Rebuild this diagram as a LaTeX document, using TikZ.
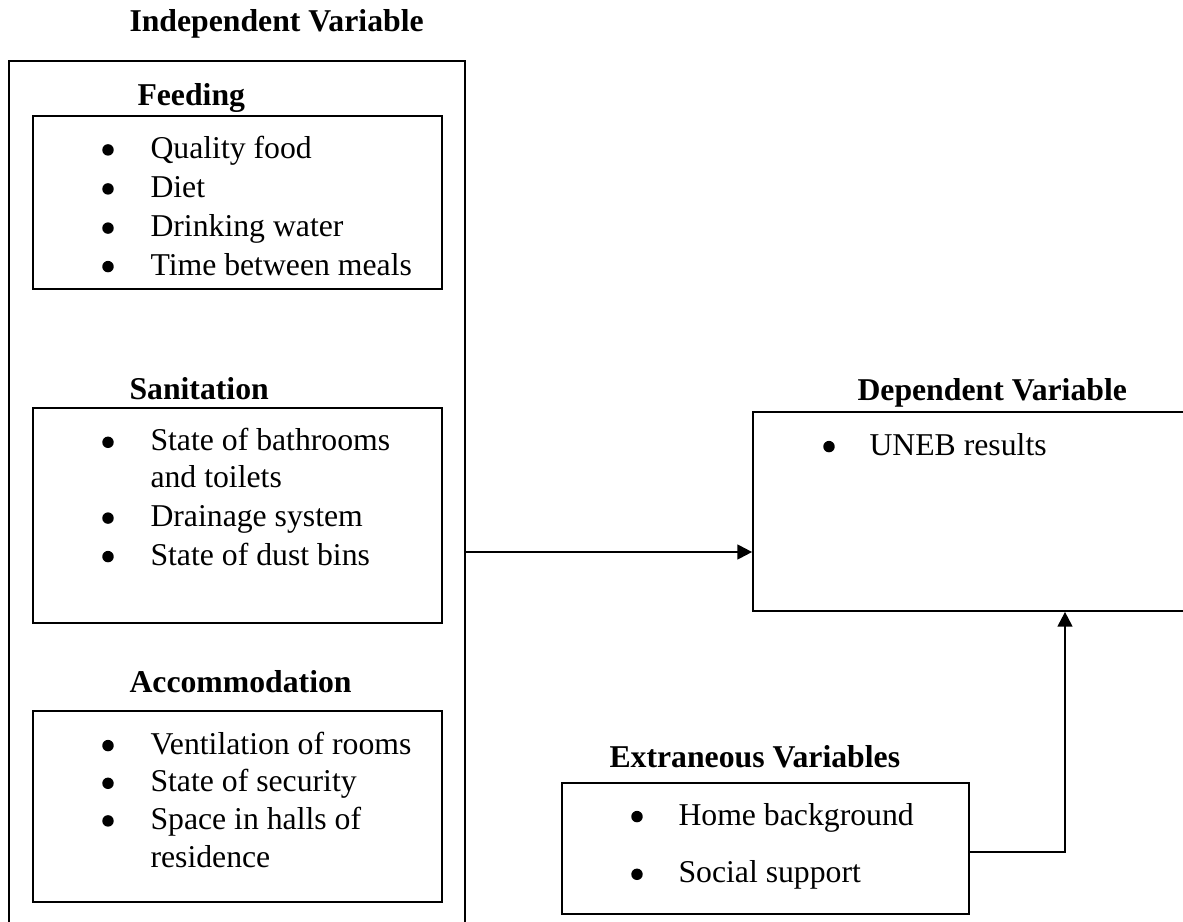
\documentclass[tikz,border=0pt]{standalone}
\usepackage{fontspec}
\setmainfont{Liberation Serif}
\usetikzlibrary{arrows.meta,fit}

\newcommand{\wordsize}{\fontsize{23.8pt}{28pt}\selectfont}
\tikzset{every picture/.style={line width=0.75pt},
  box/.style={draw,line width=1.3pt,inner sep=0pt},
  conn/.style={line width=1.6pt,-{Triangle[length=11pt,width=11pt]}},
  txt/.style={anchor=base west,inner sep=0pt,font=\wordsize},
  bul/.style={circle,fill,inner sep=0pt,minimum size=8.6pt,yshift=6.3pt},
  head/.style={anchor=base west,inner sep=0pt,font=\wordsize\bfseries}}

\begin{document}
\begin{tikzpicture}[x=0.75pt,y=0.75pt,yscale=-1,xscale=1]
%page size of the scan
\useasboundingbox (0,0) rectangle (1183,922);
\clip (0,0) rectangle (1183,922);

%Independent side
\node (indephead) [head] at (129,31.7) {Independent Variable};
\node (indep) [box,line width=1.6pt,fit={(9,61) (465,950)}] {};

%Feeding
\node (feedhead) [head] at (137,105) {Feeding};
\node (feed) [box,fit={(33,116) (442,289)}] {};
\node (feedb1) [bul] at (108,158.3) {};
\node (feedt1) [txt] at (150,158.3) {Quality food};
\node (feedb2) [bul] at (108,197.3) {};
\node (feedt2) [txt] at (150,197.3) {Diet};
\node (feedb3) [bul] at (108,236.5) {};
\node (feedt3) [txt] at (150,236.5) {Drinking water};
\node (feedb4) [bul] at (108,275) {};
\node (feedt4) [txt] at (150,275) {Time between meals};

%Sanitation
\node (sanhead) [head] at (129,399) {Sanitation};
\node (san) [box,fit={(33,408) (442,623)}] {};
\node (sanb1) [bul] at (108,450.7) {};
\node (sant1) [txt] at (150,450.7) {State of bathrooms};
\node (sant1b) [txt] at (150,487.5) {and toilets};
\node (sanb2) [bul] at (108,526.5) {};
\node (sant2) [txt] at (150,526.5) {Drainage system};
\node (sanb3) [bul] at (108,565) {};
\node (sant3) [txt] at (150,565) {State of dust bins};

%Accommodation
\node (acchead) [head] at (129,692.7) {Accommodation};
\node (acc) [box,fit={(33,711) (442,902)}] {};
\node (accb1) [bul] at (108,754) {};
\node (acct1) [txt] at (150,754) {Ventilation of rooms};
\node (accb2) [bul] at (108,791.7) {};
\node (acct2) [txt] at (150,791.7) {State of security};
\node (accb3) [bul] at (108,829.3) {};
\node (acct3) [txt] at (150,829.3) {Space in halls of};
\node (acct3b) [txt] at (150,867.3) {residence};

%Dependent side
\node (dephead) [head] at (857,400) {Dependent Variable};
\node (dep) [box,fit={(753,412) (1200,611)}] {};
\node (depb1) [bul] at (829,455) {};
\node (dept1) [txt] at (869,455) {UNEB results};

%Extraneous
\node (exthead) [head] at (609,767.7) {Extraneous Variables};
\node (ext) [box,fit={(562,783) (969,914)}] {};
\node (extb1) [bul] at (637,825) {};
\node (extt1) [txt] at (678,825) {Home background};
\node (extb2) [bul] at (637,882.7) {};
\node (extt2) [txt] at (678,882.7) {Social support};

%connectors
\coordinate (mid) at (600,552);
\coordinate (bend) at (1065,852);
\draw [conn] (indep.east |- mid) -- (dep.west |- mid);
\draw [conn] (ext.east |- bend) -| (bend |- dep.south);

\end{tikzpicture}
\end{document}
